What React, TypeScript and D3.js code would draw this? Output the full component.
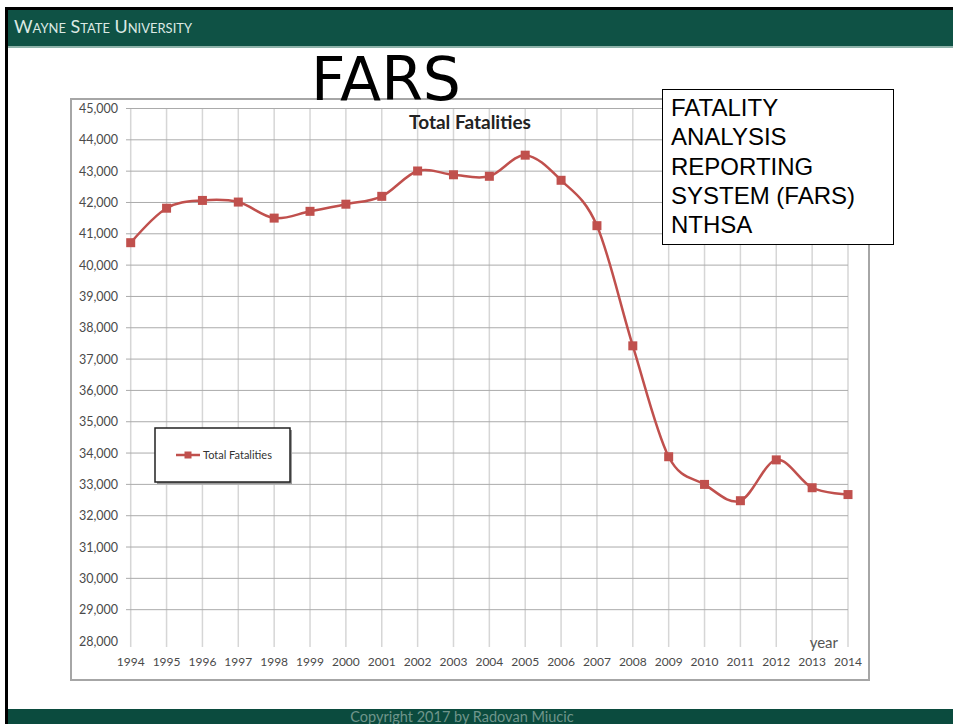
import React, { useEffect, useRef } from "react";
import * as d3 from "d3";

// FARS total fatalities by year
const years = [1994, 1995, 1996, 1997, 1998, 1999, 2000, 2001, 2002, 2003, 2004, 2005, 2006, 2007, 2008, 2009, 2010, 2011, 2012, 2013, 2014];
const fatalities = [40716, 41817, 42065, 42013, 41501, 41717, 41945, 42196, 43005, 42884, 42836, 43510, 42708, 41259, 37423, 33883, 32999, 32479, 33782, 32893, 32675];
const yTicks = d3.range(28000, 45001, 1000);
const boxLines = ["FATALITY", "ANALYSIS", "REPORTING", "SYSTEM (FARS)", "NTHSA"];

const W = 953;
const H = 724;
const RED = "#c0504d";
const GREEN = "#0f5245";

const App = () => {
  const ref = useRef<SVGSVGElement>(null);

  useEffect(() => {
    const svg = d3.select(ref.current);
    svg.selectAll("*").remove();

    svg.append("rect").attr("width", W).attr("height", H).attr("fill", "#fff");

    // slide header / footer / frame
    svg.append("rect").attr("x", 5).attr("y", 7).attr("width", W - 5).attr("height", 3).attr("fill", "#000");
    svg.append("rect").attr("x", 5).attr("y", 7).attr("width", 3).attr("height", H - 7).attr("fill", "#000");
    svg.append("rect").attr("x", 8).attr("y", 10).attr("width", W - 8).attr("height", 36).attr("fill", GREEN);
    svg.append("rect").attr("x", 8).attr("y", 46).attr("width", W - 8).attr("height", 2).attr("fill", "#8fb3aa");
    svg.append("text")
      .attr("x", 14).attr("y", 33)
      .attr("font-family", "Lato, 'Open Sans', sans-serif")
      .attr("font-size", 18)
      .style("font-variant", "small-caps")
      .attr("textLength", 178)
      .attr("lengthAdjust", "spacingAndGlyphs")
      .attr("fill", "#dce9e4")
      .text("Wayne State University");
    svg.append("rect").attr("x", 8).attr("y", 709).attr("width", W - 8).attr("height", H - 709).attr("fill", "#0b4b3e");
    svg.append("text")
      .attr("x", 462).attr("y", 722)
      .attr("text-anchor", "middle")
      .attr("font-family", "Lato, sans-serif")
      .attr("font-size", 14.5)
      .attr("fill", "#6f958b")
      .text("Copyright 2017 by Radovan Miucic");

    // chart frame
    svg.append("rect")
      .attr("x", 71).attr("y", 99).attr("width", 798).attr("height", 581)
      .attr("fill", "#fff").attr("stroke", "#a6a6a6").attr("stroke-width", 2);

    const x = d3.scaleLinear().domain([1994, 2014]).range([130.7, 848]);
    const y = d3.scaleLinear().domain([28000, 45000]).range([641, 108.5]);

    // vertical grid
    svg.append("g")
      .selectAll("line")
      .data(years)
      .enter()
      .append("line")
      .attr("x1", (d) => x(d)).attr("x2", (d) => x(d))
      .attr("y1", y(45000)).attr("y2", 647)
      .attr("stroke", "#d6d6d6").attr("stroke-width", 1.5);

    // horizontal grid
    svg.append("g")
      .selectAll("line")
      .data(yTicks.filter((d) => d > 28000))
      .enter()
      .append("line")
      .attr("x1", 126).attr("x2", x(2014))
      .attr("y1", (d) => y(d)).attr("y2", (d) => y(d))
      .attr("stroke", "#ababab").attr("stroke-width", 1);

    // y labels
    svg.append("g")
      .selectAll("text")
      .data(yTicks)
      .enter()
      .append("text")
      .attr("x", 118).attr("y", (d) => y(d) + 4.5)
      .attr("text-anchor", "end")
      .attr("font-family", "Lato, sans-serif")
      .attr("font-size", 12.5)
      .attr("fill", "#4a4a4a")
      .text((d) => d3.format(",")(d));

    // x labels
    svg.append("g")
      .selectAll("text")
      .data(years)
      .enter()
      .append("text")
      .attr("x", (d) => x(d)).attr("y", 666)
      .attr("text-anchor", "middle")
      .attr("font-family", "Lato, sans-serif")
      .attr("font-size", 12)
      .attr("fill", "#4a4a4a")
      .text((d) => d);

    svg.append("text")
      .attr("x", 838).attr("y", 648)
      .attr("text-anchor", "end")
      .attr("font-family", "Lato, sans-serif")
      .attr("font-size", 15)
      .attr("fill", "#555")
      .text("year");

    svg.append("text")
      .attr("x", 470).attr("y", 129)
      .attr("text-anchor", "middle")
      .attr("font-family", "Lato, sans-serif")
      .attr("font-weight", "bold")
      .attr("font-size", 19)
      .attr("fill", "#222")
      .text("Total Fatalities");

    // series
    const pts = years.map((yr, i) => [x(yr), y(fatalities[i])] as [number, number]);
    const line = d3.line().curve(d3.curveCardinal.tension(0));
    svg.append("path")
      .attr("d", line(pts))
      .attr("fill", "none")
      .attr("stroke", RED)
      .attr("stroke-width", 2.5);
    svg.append("g")
      .selectAll("rect")
      .data(pts)
      .enter()
      .append("rect")
      .attr("x", (d) => d[0] - 4.5).attr("y", (d) => d[1] - 4.5)
      .attr("width", 9).attr("height", 9)
      .attr("fill", RED);

    // legend
    svg.append("rect")
      .attr("x", 157).attr("y", 430).attr("width", 135).attr("height", 54)
      .attr("fill", "#9a9a9a");
    svg.append("rect")
      .attr("x", 155).attr("y", 428).attr("width", 135).attr("height", 54)
      .attr("fill", "#fff").attr("stroke", "#222").attr("stroke-width", 1.5);
    svg.append("line")
      .attr("x1", 176).attr("x2", 200).attr("y1", 455).attr("y2", 455)
      .attr("stroke", RED).attr("stroke-width", 2.5);
    svg.append("rect")
      .attr("x", 184.5).attr("y", 451.5).attr("width", 7).attr("height", 7).attr("fill", RED);
    svg.append("text")
      .attr("x", 203).attr("y", 459)
      .attr("font-family", "Lato, sans-serif")
      .attr("font-size", 11)
      .attr("fill", "#333")
      .text("Total Fatalities");

    // big title
    svg.append("text")
      .attr("x", 386).attr("y", 100)
      .attr("text-anchor", "middle")
      .attr("font-family", "'Comic Sans MS', 'DejaVu Sans', sans-serif")
      .attr("font-size", 60)
      .attr("fill", "#000")
      .text("FARS");

    // text box
    svg.append("rect")
      .attr("x", 662.5).attr("y", 89.5).attr("width", 231).attr("height", 155)
      .attr("fill", "#fff").attr("stroke", "#000").attr("stroke-width", 1);
    svg.append("g")
      .selectAll("text")
      .data(boxLines)
      .enter()
      .append("text")
      .attr("x", 671).attr("y", (d, i) => 116 + i * 29.3)
      .attr("font-family", "'Liberation Sans', Arial, sans-serif")
      .attr("font-size", 24)
      .attr("fill", "#000")
      .text((d) => d);
  }, []);

  return (
    <svg
      ref={ref}
      width={W}
      height={H}
      style={{ position: "absolute", left: 0, top: 0, display: "block" }}
    />
  );
};

export default App;
